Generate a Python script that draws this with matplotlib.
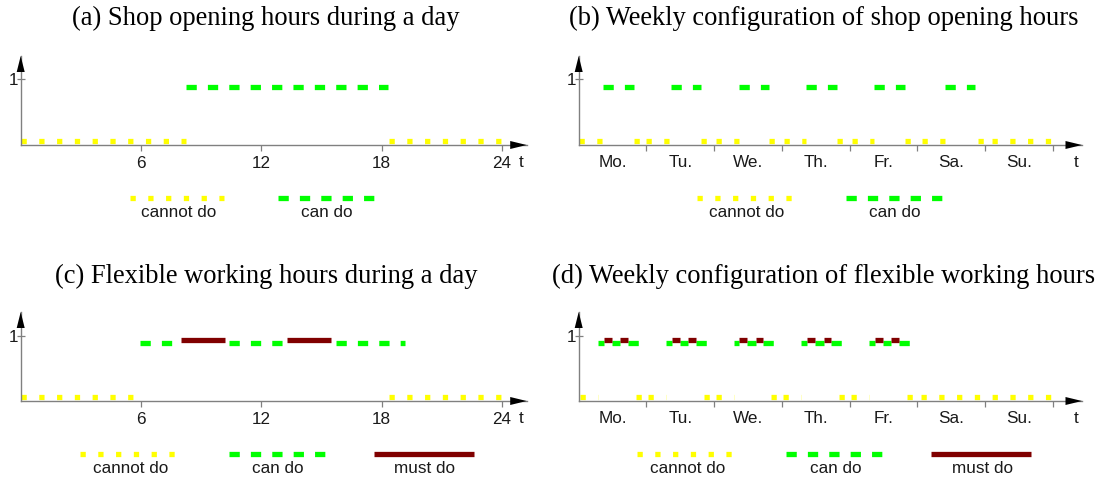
import matplotlib
matplotlib.use('Agg')
import matplotlib.pyplot as plt
from matplotlib.lines import Line2D
from matplotlib.patches import Polygon

plt.rcParams['lines.scale_dashes'] = False
plt.rcParams['font.family'] = ['Liberation Sans', 'DejaVu Sans']

W, H = 1102, 482

# ── Colours ───────────────────────────────────────────────────────────────────
YELLOW = '#FFFF00'
GREEN = '#00FF00'
MUST = '#800000'
AXIS = '#808080'
INK = '#1A1A1A'

# ── Data: intervals in hours (day panels 0..24, week panels 0..168) ──────────
a_cannot = [(0, 8.25), (18.37, 24)]
a_can = [(8.25, 18.3)]

day_ticks = ['6', '12', '18', '24']
day_tick_pos = [6, 12, 18, 24]
days = ['Mo.', 'Tu.', 'We.', 'Th.', 'Fr.', 'Sa.', 'Su.']

b_can = [(8.45, 19.45), (32.6, 43.4), (56.7, 67.6), (80.7, 91.4),
         (104.6, 115.5), (129.8, 140.45)]
b_cannot = [(0, 8.45), (19.45, 24), (24, 32.6), (43.4, 48), (48.8, 56.7),
            (67.6, 72), (72.8, 80.7), (91.4, 96), (96.8, 104.6), (115.5, 120),
            (121.8, 129.8), (141.5, 144), (146.4, 168)]

c_cannot = [(0, 6.0), (18.37, 24)]
c_can = [(5.97, 7.98), (10.39, 13.26), (15.71, 19.15)]
c_must = [(7.98, 10.17), (13.26, 15.46)]

d_workdays = [0, 1, 2, 3, 4]              # Mo..Fr
d_can_day = [(6.9, 9.0), (11.8, 14.8), (17.5, 21.5)]
d_must_day = [(9.0, 11.8), (14.8, 17.5)]
d_cannot_day = [(0.5, 6.9), (20.3, 24)]
d_cannot_weekend = [(121.5, 168)]

# ── Styles ────────────────────────────────────────────────────────────────────
LW = 3.8
LEVEL = {'cannot': 0.066, 'can': 0.89, 'must': 0.935}
STYLE = {
    'cannot': dict(color=YELLOW, linestyle=(0, (3.8, 9.0))),
    'can': dict(color=GREEN, linestyle=(0, (7.4, 8.0))),
    'must': dict(color=MUST, linestyle='-', solid_capstyle='butt'),
}
LABEL_FS = 12.3

fig = plt.figure(figsize=(W / 100, H / 100), dpi=100, facecolor='white')


def fx(x):
    return x / W


def fy(y):
    return 1 - y / H


def panel(ox, oy, tip_x, tip_y, xpp, ypp):
    ax = fig.add_axes([fx(ox), fy(oy), (tip_x - ox) / W, (oy - tip_y) / H])
    ax.set_xlim(0, (tip_x - ox) / xpp)
    ax.set_ylim(0, (oy - tip_y) / ypp)
    ax.patch.set_alpha(0)
    for s in ('top', 'right'):
        ax.spines[s].set_visible(False)
    for s in ('left', 'bottom'):
        ax.spines[s].set_color(AXIS)
        ax.spines[s].set_linewidth(1.0)
    ax.set_yticks([1])
    ax.set_yticklabels(['1'])
    ax.tick_params(axis='y', direction='inout', length=6.2, width=0.9,
                   color=AXIS, labelsize=LABEL_FS, labelcolor=INK, pad=-1.5)
    ax.tick_params(axis='x', which='major', direction='out', length=4.3,
                   width=0.9, color=AXIS, labelsize=LABEL_FS,
                   labelcolor=INK, pad=3.5)
    # arrow heads (black) over the grey axis lines
    fig.add_artist(Polygon([(fx(tip_x), fy(oy)), (fx(tip_x - 16.5), fy(oy - 4)),
                            (fx(tip_x - 16.5), fy(oy + 4))], closed=True,
                           facecolor='black', edgecolor='none',
                           transform=fig.transFigure))
    fig.add_artist(Polygon([(fx(ox), fy(tip_y)), (fx(ox - 4), fy(tip_y + 16)),
                            (fx(ox + 4), fy(tip_y + 16))], closed=True,
                           facecolor='black', edgecolor='none',
                           transform=fig.transFigure))
    fig.text(fx(tip_x - 6), fy(oy + 17.5), 't', fontsize=LABEL_FS, color=INK,
             ha='center', va='center')
    return ax


def draw(ax, intervals, kind):
    for s, e in intervals:
        ax.plot([s, e], [LEVEL[kind], LEVEL[kind]], lw=LW, clip_on=False,
                **STYLE[kind])


def day_axis(ax):
    ax.set_xticks(day_tick_pos)
    ax.set_xticklabels(day_ticks)


def week_axis(ax):
    ax.set_xticks([24 * (i + 1) for i in range(len(days))])
    ax.set_xticklabels([])
    ax.set_xticks([24 * i + 12 for i in range(len(days))], minor=True)
    ax.set_xticklabels(days, minor=True)
    ax.tick_params(axis='x', which='minor', length=0, labelsize=LABEL_FS,
                   labelcolor=INK, pad=7.3)


def legend_item(x0, x1, y, kind, text, tx, ty):
    fig.add_artist(Line2D([fx(x0), fx(x1)], [fy(y), fy(y)], lw=LW,
                          transform=fig.transFigure, **STYLE[kind]))
    fig.text(fx(tx), fy(ty), text, fontsize=LABEL_FS, color=INK,
             ha='center', va='center')


def title(x, y, s):
    fig.text(fx(x), fy(y), s, fontsize=19.1, family='Liberation Serif',
             color='black', ha='center', va='center')


# ── (a) shop opening hours during a day ──────────────────────────────────────
ax_a = panel(20.7, 145, 526.7, 56, 20.05, 65.7)
day_axis(ax_a)
draw(ax_a, a_cannot, 'cannot')
draw(ax_a, a_can, 'can')
title(266, 18.5, '(a) Shop opening hours during a day')
legend_item(129.8, 223.8, 198.3, 'cannot', 'cannot do', 179, 212.5)
legend_item(278.2, 374.7, 198.3, 'can', 'can do', 327, 212.5)

# ── (b) weekly configuration of shop opening hours ───────────────────────────
ax_b = panel(578.7, 145, 1082, 56, 67.7 / 24, 65.7)
week_axis(ax_b)
draw(ax_b, b_cannot, 'cannot')
draw(ax_b, b_can, 'can')
title(824, 18.5, '(b) Weekly configuration of shop opening hours')
legend_item(697.2, 791.6, 198.0, 'cannot', 'cannot do', 746.7, 212.5)
legend_item(846.2, 942.6, 198.0, 'can', 'can do', 894.6, 212.5)

# ── (c) flexible working hours during a day ──────────────────────────────────
ax_c = panel(20.7, 401, 526.7, 312, 20.05, 65.3)
day_axis(ax_c)
draw(ax_c, c_cannot, 'cannot')
draw(ax_c, c_can, 'can')
draw(ax_c, c_must, 'must')
title(266, 276.7, '(c) Flexible working hours during a day')
legend_item(79.9, 174.6, 454.2, 'cannot', 'cannot do', 130.9, 468.7)
legend_item(229, 325.4, 454.2, 'can', 'can do', 278.2, 468.7)
legend_item(373.6, 474.2, 454.2, 'must', 'must do', 424.6, 468.7)

# ── (d) weekly configuration of flexible working hours ───────────────────────
ax_d = panel(578.7, 401, 1082, 312, 67.7 / 24, 65.3)
week_axis(ax_d)
for d in d_workdays:
    draw(ax_d, [(s + 24 * d, e + 24 * d) for s, e in d_cannot_day], 'cannot')
    draw(ax_d, [(s + 24 * d, e + 24 * d) for s, e in d_can_day], 'can')
    draw(ax_d, [(s + 24 * d, e + 24 * d) for s, e in d_must_day], 'must')
draw(ax_d, d_cannot_weekend, 'cannot')
title(824, 276.7, '(d) Weekly configuration of flexible working hours')
legend_item(636.7, 731.8, 454.2, 'cannot', 'cannot do', 687.2, 468.7)
legend_item(786.4, 882.5, 454.2, 'can', 'can do', 835.5, 468.7)
legend_item(930.6, 1030.8, 454.2, 'must', 'must do', 982.4, 468.7)

fig.savefig('out.png', dpi=100, facecolor='white')
plt.close(fig)
